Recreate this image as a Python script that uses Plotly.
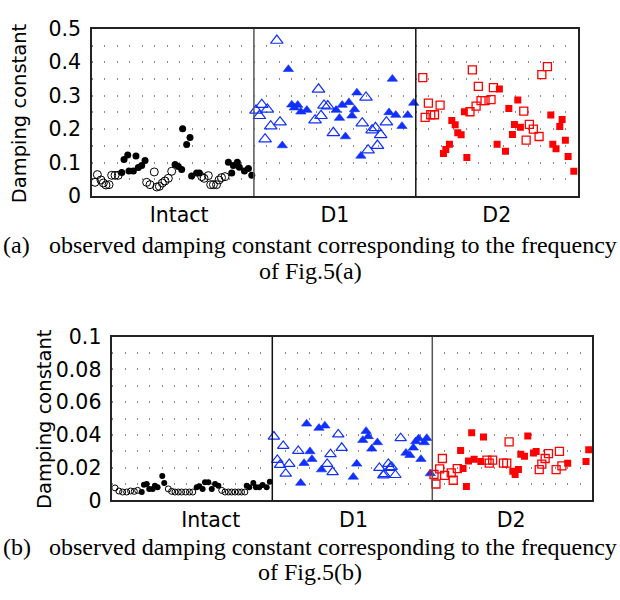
import plotly.graph_objects as go

# ---------------- data: panel (a) ----------------
a_intact_open_x = [0.24,0.43,0.72,0.91,1.12,1.37,1.58,1.85,2.11, 4.39,4.66,5.0,5.2,5.41,5.65,5.86,6.13,6.4,
                   8.81,9.0,9.34,9.53,9.75,10.0,10.2,10.4,10.68]
a_intact_open_y = [0.041,0.064,0.048,0.039,0.033,0.034,0.062,0.062,0.062, 0.041,0.034,0.072,0.027,0.029,0.039,0.045,0.053,0.074,
                   0.058,0.053,0.061,0.034,0.034,0.034,0.048,0.055,0.058]
a_intact_fill_x = [2.39,2.57,2.87,2.97,3.32,3.53,3.72,3.99,4.26, 6.67,6.93,7.2,7.28,7.6,7.87,8.0,8.4,8.62,
                   10.95,11.22,11.35,11.67,11.83,12.24,12.56,12.83]
a_intact_fill_y = [0.070,0.109,0.123,0.075,0.075,0.120,0.085,0.091,0.106, 0.094,0.088,0.079,0.201,0.154,0.175,0.060,0.069,0.069,
                   0.101,0.069,0.091,0.101,0.086,0.075,0.082,0.062]
a_d1_open_x = [13.17,13.63,13.44,14.08,13.9,14.35,14.84,15.1, 18.19,17.91,18.39,18.63,18.93,19.38,
               22.0,21.7,22.17,22.49,22.76,22.92,23.18,23.64]
a_d1_open_y = [0.256,0.273,0.240,0.259,0.170,0.209,0.465,0.221, 0.319,0.227,0.240,0.271,0.269,0.189,
               0.295,0.218,0.137,0.197,0.204,0.151,0.183,0.221]
a_d1_fill_x = [15.77,15.28,16.04,16.25,16.52,16.77,17.25, 19.6,19.87,20.09,20.35,20.63,20.87,21.08,21.27,21.59,
               23.85,24.12,24.39,24.89,25.35,25.83]
a_d1_fill_y = [0.379,0.151,0.273,0.264,0.272,0.252,0.257, 0.257,0.233,0.272,0.178,0.280,0.240,0.259,0.309,0.120,
               0.250,0.350,0.242,0.209,0.242,0.278]
a_d2_open_x = [26.56,26.75,27.01,27.2,27.5,27.95, 30.35,30.54,30.84,31.02,31.24,31.56,32.04,32.23,
               34.67,34.86,35.12,35.44,35.9,36.12,36.57]
a_d2_open_y = [0.354,0.235,0.278,0.243,0.243,0.272, 0.252,0.377,0.269,0.328,0.285,0.285,0.288,0.324,
               0.254,0.167,0.214,0.200,0.178,0.363,0.387]
a_d2_fill_x = [28.22,28.41,28.7,28.89,29.16,29.37,29.64,29.9,30.1, 32.71,32.53,33.2,33.47,33.76,33.92,34.19,34.4,
               36.84,37.0,37.26,37.56,37.75,38.01,38.23,38.69]
a_d2_fill_y = [0.127,0.139,0.155,0.226,0.213,0.189,0.183,0.252,0.115, 0.320,0.155,0.134,0.262,0.184,0.214,0.287,0.206,
               0.242,0.155,0.141,0.208,0.229,0.167,0.118,0.074]

# ---------------- data: panel (b) ----------------
b_intact_open_x = [0.22,0.54,0.84,1.17,1.49,1.79,2.06, 4.55,4.82,5.09,5.36,5.63,5.96,6.27,6.54,
                   8.89,9.16,9.43,9.7,9.97,10.24,10.5,10.77]
b_intact_open_y = [0.0076,0.0057,0.0051,0.0051,0.0057,0.0055,0.0061, 0.0070,0.0055,0.0051,0.0051,0.0051,0.0051,0.0051,0.0051,
                   0.0061,0.0051,0.0051,0.0051,0.0051,0.0051,0.0051,0.0051]
b_intact_fill_x = [2.39,2.57,2.79,3.0,3.28,3.46,3.68,4.06,4.22, 6.86,7.07,7.34,7.53,7.8,8.08,8.35,8.62,
                   10.92,11.13,11.46,11.67,11.94,12.21,12.54,12.8]
b_intact_fill_y = [0.0051,0.0096,0.0100,0.0070,0.0070,0.0090,0.0080,0.0149,0.0106, 0.0080,0.0086,0.0070,0.0110,0.0110,0.0070,0.0100,0.0090,
                   0.0090,0.0080,0.0106,0.0080,0.0080,0.0094,0.0080,0.0114]
b_d1_open_x = [13.13,13.89,13.41,13.63,14.38,14.09,15.11, 17.46,17.73,17.9,18.36,18.64,
               21.7,22.02,22.1,22.43,22.56,22.7,23.0,23.43]
b_d1_open_y = [0.0390,0.0333,0.0247,0.0217,0.0223,0.0163,0.0302, 0.0223,0.0282,0.0173,0.0403,0.0321,
               0.0198,0.0153,0.0160,0.0223,0.0198,0.0204,0.0155,0.0380]
b_d1_fill_x = [15.31,15.58,15.79,16.06,16.22,16.79,17.0,17.27, 19.58,19.86,20.35,20.62,20.8,21.08,21.54,
               23.86,24.18,24.46,24.65,24.89,25.08,25.35,25.55,25.84]
b_d1_fill_y = [0.0106,0.0227,0.0468,0.0299,0.0252,0.0442,0.0188,0.0456, 0.0143,0.0223,0.0368,0.0423,0.0391,0.0315,0.0354,
               0.0290,0.0276,0.0321,0.0360,0.0378,0.0252,0.0354,0.0380,0.0164]
b_d2_open_x = [26.3,26.14,26.6,26.82,27.0,27.54,27.7,28.03, 30.44,30.63,30.9,31.78,32.05,32.24,
               34.69,34.9,35.17,35.44,36.06,36.33,36.53]
b_d2_open_y = [0.0100,0.0158,0.0192,0.0256,0.0153,0.0168,0.0123,0.0194, 0.0246,0.0227,0.0246,0.0227,0.0227,0.0358,
               0.0188,0.0221,0.0256,0.0286,0.0188,0.0299,0.0211]
b_d2_fill_x = [28.3,28.5,28.77,28.94,29.2,29.4,29.94,30.16, 32.54,32.73,33.0,33.19,33.49,33.76,34.22,34.44,
               37.0,38.49,38.71]
b_d2_fill_y = [0.0305,0.0194,0.0085,0.0241,0.0413,0.0252,0.0237,0.0387, 0.0178,0.0158,0.0188,0.0282,0.0270,0.0393,0.0290,0.0299,
               0.0227,0.0237,0.0309]

group_labels = ["Intact", "D1", "D2"]
a_label_pos = [7.0, 19.5, 32.5]
b_label_pos = [8.0, 19.6, 32.4]
group_bounds = [13, 26]
a_yticks = [0, 0.1, 0.2, 0.3, 0.4, 0.5]
b_yticks = [0, 0.02, 0.04, 0.06, 0.08, 0.1]

BLUE = "#1030ff"
RED = "#ff0000"
fig = go.Figure()

def add(x, y, xa, ya, symbol, color, size, lw=1.2):
    fig.add_trace(go.Scatter(x=x, y=y, mode="markers", xaxis=xa, yaxis=ya, showlegend=False,
                             marker=dict(symbol=symbol, color=color, size=size,
                                         line=dict(color=color, width=lw))))

# panel a
add(a_intact_open_x, a_intact_open_y, "x", "y", "circle-open", "black", 8, 1)
add(a_intact_fill_x, a_intact_fill_y, "x", "y", "circle", "black", 7, 0)
add(a_d1_open_x, a_d1_open_y, "x", "y", "triangle-up-open", BLUE, 11, 1.2)
add(a_d1_fill_x, a_d1_fill_y, "x", "y", "triangle-up", BLUE, 9, 0.6)
add(a_d2_open_x, a_d2_open_y, "x", "y", "square-open", RED, 8, 1.3)
add(a_d2_fill_x, a_d2_fill_y, "x", "y", "square", RED, 7, 0)
# panel b
add(b_intact_open_x, b_intact_open_y, "x2", "y2", "circle-open", "black", 6, 1)
add(b_intact_fill_x, b_intact_fill_y, "x2", "y2", "circle", "black", 6, 0)
add(b_d1_open_x, b_d1_open_y, "x2", "y2", "triangle-up-open", BLUE, 10, 1.2)
add(b_d1_fill_x, b_d1_fill_y, "x2", "y2", "triangle-up", BLUE, 9, 0.6)
add(b_d2_open_x, b_d2_open_y, "x2", "y2", "square-open", RED, 8, 1.3)
add(b_d2_fill_x, b_d2_fill_y, "x2", "y2", "square", RED, 7, 0)

TF = dict(family="DejaVu Sans", size=20.5, color="black")
LF = dict(family="DejaVu Sans", size=19.5, color="black")
xcommon = dict(range=[0, 39], ticktext=group_labels, ticks="",
               showgrid=False, zeroline=False, showline=True, linecolor="#222", linewidth=1.5,
               mirror=True, tickfont=TF)
ycommon = dict(ticks="", zeroline=False, showline=True, linecolor="#222", linewidth=1.5,
               mirror=True, tickfont=TF, showgrid=True, gridcolor="#8a8a8a", gridwidth=1.5,
               ticklabelstandoff=5)

fig.update_layout(
    width=620, height=600, margin=dict(l=0, r=0, t=0, b=0),
    paper_bgcolor="white", plot_bgcolor="white",
    xaxis=dict(domain=[92/620, 577.7/620], anchor="y", tickvals=a_label_pos, **xcommon),
    yaxis=dict(domain=[1-191.7/600, 1-17.5/600], anchor="x", range=[0, 0.5], tickvals=a_yticks,
               griddash="1px,11.45px",
               minor=dict(dtick=0.05, showgrid=True, gridcolor="#8a8a8a", gridwidth=1.5, griddash="1px,11.45px"),
               **ycommon),
    xaxis2=dict(domain=[112.3/620, 592.3/620], anchor="y2", tickvals=b_label_pos, **xcommon),
    yaxis2=dict(domain=[1-508.7/600, 1-338.3/600], anchor="x2", range=[0, 0.1], tickvals=b_yticks,
                griddash="1px,11.3px",
                minor=dict(dtick=0.01, showgrid=True, gridcolor="#8a8a8a", gridwidth=1.5, griddash="1px,11.3px"),
                **ycommon),
)

for xr, yr, cols in [("x", "y domain", ["#555", "#111"]), ("x2", "y2 domain", ["#111", "#555"])]:
    for b, c in zip(group_bounds, cols):
        fig.add_shape(type="line", xref=xr, yref=yr, x0=b, x1=b, y0=0, y1=1,
                      line=dict(color=c, width=1.5))

# y-axis titles
fig.add_annotation(text="Damping constant", textangle=-90, xref="paper", yref="paper",
                   x=19.5/620, y=1-106/600, showarrow=False, font=LF, xanchor="center", yanchor="middle")
fig.add_annotation(text="Damping constant", textangle=-90, xref="paper", yref="paper",
                   x=44/620, y=1-424/600, showarrow=False, font=LF, xanchor="center", yanchor="middle")

# captions
CF = dict(family="Liberation Serif", size=24, color="black")
for lab, y1, y2, ref in [("(a)", 243, 270, "Fig.5(a)"), ("(b)", 557, 583, "Fig.5(b)")]:
    fig.add_annotation(text=lab, xref="paper", yref="paper", x=1/620, y=1-y1/600, showarrow=False,
                       font=CF, xanchor="left", yanchor="middle")
    fig.add_annotation(text="observed damping constant corresponding to the frequency", xref="paper",
                       yref="paper", x=619/620, y=1-y1/600, showarrow=False, font=CF,
                       xanchor="right", yanchor="middle")
    fig.add_annotation(text="of " + ref, xref="paper", yref="paper", x=310/620, y=1-y2/600,
                       showarrow=False, font=CF, xanchor="center", yanchor="middle")

fig.write_html("out.html")
